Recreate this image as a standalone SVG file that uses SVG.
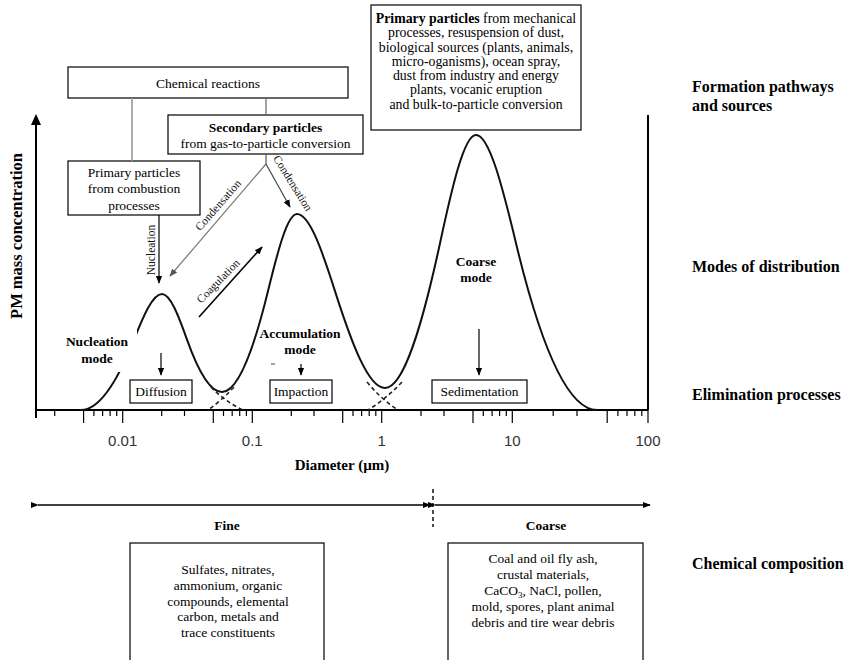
<svg xmlns="http://www.w3.org/2000/svg" width="848" height="660" viewBox="0 0 848 660">
<defs>
<style>
.box{fill:#fff;stroke:#000;stroke-width:1.2}
.t{font-family:"Liberation Serif","Times New Roman",serif;font-size:13.5px;text-anchor:middle;fill:#000}
.tp{font-size:13.8px}
.s{font-family:"Liberation Serif","Times New Roman",serif;font-size:11.5px;text-anchor:middle;fill:#111}
.b{font-weight:bold}
.lab{font-family:"Liberation Serif","Times New Roman",serif;font-size:16px;font-weight:bold;fill:#000}
.ml{font-family:"Liberation Serif","Times New Roman",serif;font-size:13.5px;font-weight:bold;text-anchor:middle;fill:#000}
.big{font-size:15px}
.yl{font-size:16.5px}
.tk{font-family:"Liberation Sans",Arial,sans-serif;font-size:15px;text-anchor:middle;fill:#333}
.ax{stroke:#000;stroke-width:2;fill:none}
.tick{stroke:#000;stroke-width:1.2}
.ar{stroke:#000;stroke-width:1.2;fill:none}
.dash{stroke:#222;stroke-width:1.6;stroke-dasharray:4,3;fill:none}
</style>
<marker id="ah" viewBox="0 0 10 10" refX="9" refY="5" markerWidth="8" markerHeight="8" markerUnits="userSpaceOnUse" orient="auto"><path d="M0,1 L10,5 L0,9 Z" fill="#000"/></marker>
<marker id="ahg" viewBox="0 0 10 10" refX="9" refY="5" markerWidth="8" markerHeight="8" markerUnits="userSpaceOnUse" orient="auto"><path d="M0,1 L10,5 L0,9 Z" fill="#555"/></marker>
</defs>
<rect width="848" height="660" fill="#fff"/>

<g id="axes">
<line class="ax" x1="36" y1="418" x2="36" y2="123"/>
<path d="M31,125 L36,114 L41,125 Z" fill="#000"/>
<line class="ax" x1="35" y1="410" x2="648" y2="410"/>
<line class="ax" x1="648" y1="410" x2="648" y2="115"/>
<g class="tick">
<line x1="54.7" y1="410" x2="54.7" y2="416"/>
<line x1="83.6" y1="410" x2="83.6" y2="423"/>
<line x1="93.9" y1="410" x2="93.9" y2="416"/>
<line x1="102.6" y1="410" x2="102.6" y2="416"/>
<line x1="110.1" y1="410" x2="110.1" y2="416"/>
<line x1="116.7" y1="410" x2="116.7" y2="416"/>
<line x1="122.7" y1="410" x2="122.7" y2="423"/>
<line x1="161.7" y1="410" x2="161.7" y2="416"/>
<line x1="184.5" y1="410" x2="184.5" y2="416"/>
<line x1="213.3" y1="410" x2="213.3" y2="423"/>
<line x1="223.5" y1="410" x2="223.5" y2="416"/>
<line x1="232.2" y1="410" x2="232.2" y2="416"/>
<line x1="239.7" y1="410" x2="239.7" y2="416"/>
<line x1="246.4" y1="410" x2="246.4" y2="416"/>
<line x1="252.3" y1="410" x2="252.3" y2="423"/>
<line x1="291.3" y1="410" x2="291.3" y2="416"/>
<line x1="314" y1="410" x2="314" y2="416"/>
<line x1="342.7" y1="410" x2="342.7" y2="423"/>
<line x1="353" y1="410" x2="353" y2="416"/>
<line x1="361.6" y1="410" x2="361.6" y2="416"/>
<line x1="369.2" y1="410" x2="369.2" y2="416"/>
<line x1="375.8" y1="410" x2="375.8" y2="416"/>
<line x1="381.7" y1="410" x2="381.7" y2="423"/>
<line x1="421" y1="410" x2="421" y2="416"/>
<line x1="444" y1="410" x2="444" y2="416"/>
<line x1="473" y1="410" x2="473" y2="423"/>
<line x1="483.3" y1="410" x2="483.3" y2="416"/>
<line x1="492.1" y1="410" x2="492.1" y2="416"/>
<line x1="499.6" y1="410" x2="499.6" y2="416"/>
<line x1="506.3" y1="410" x2="506.3" y2="416"/>
<line x1="512.3" y1="410" x2="512.3" y2="423"/>
<line x1="553.2" y1="410" x2="553.2" y2="416"/>
<line x1="577" y1="410" x2="577" y2="416"/>
<line x1="607.2" y1="410" x2="607.2" y2="423"/>
<line x1="617.9" y1="410" x2="617.9" y2="416"/>
<line x1="627" y1="410" x2="627" y2="416"/>
<line x1="634.8" y1="410" x2="634.8" y2="416"/>
<line x1="641.8" y1="410" x2="641.8" y2="416"/>
<line x1="648" y1="410" x2="648" y2="423"/>
</g>
<text class="tk" x="122.7" y="446">0.01</text>
<text class="tk" x="252.3" y="446">0.1</text>
<text class="tk" x="381.7" y="446">1</text>
<text class="tk" x="512.3" y="446">10</text>
<text class="tk" x="648" y="446">100</text>
<text class="ml big" x="342" y="470">Diameter (µm)</text>
<text class="ml yl" transform="translate(22,236) rotate(-90)">PM mass concentration</text>
</g>

<g id="curve">
<path d="M81,410 C98.67,410 116.33,383.95 134,339.6 C143.33,316.2 152.67,294 162,294 C170.33,294 178.67,316.2 187,339.6 C198.67,372.4 210.33,392 222,392 C237.33,392 252.67,353.97 268,291.1 C277.67,251.5 287.33,214 297,214 C309.67,214 322.33,251.5 335,291.1 C351.67,343.3 368.33,388 385,388 C403.33,388 421.67,328.1 440,243.2 C452,187.6 464,135 476,135 C489.33,135 502.67,187.6 516,243.2 C543,355.8 570,410 597,410" fill="none" stroke="#111" stroke-width="2"/>
<path class="dash" d="M211,387 Q224,401 243,410"/>
<path class="dash" d="M234,387 Q221,401 208,410"/>
<path class="dash" d="M367,382 Q381,399 398,410"/>
<path class="dash" d="M402,382 Q386,399 368,410"/>
<line x1="271" y1="364" x2="275" y2="364" stroke="#444" stroke-width="1"/>
</g>

<g id="mode-nucleation">
<rect x="63" y="330" width="74" height="42" fill="#fff"/>
<text class="ml" x="97" y="346">Nucleation</text>
<text class="ml" x="97" y="363">mode</text>
</g>
<g id="mode-accumulation">
<text class="ml" x="300" y="338">Accumulation</text>
<text class="ml" x="300" y="354">mode</text>
</g>
<g id="mode-coarse">
<text class="ml" x="476" y="266">Coarse</text>
<text class="ml" x="476" y="282">mode</text>
</g>

<g id="box-chemical">
<rect class="box" x="68" y="67" width="280" height="31"/>
<text class="t" x="208" y="88">Chemical reactions</text>
</g>
<g id="box-secondary">
<rect class="box" x="168" y="115" width="195" height="39"/>
<text class="t b" x="265.5" y="132">Secondary particles</text>
<text class="t" x="265.5" y="148">from gas-to-particle conversion</text>
</g>
<g id="box-primary-combustion">
<rect class="box" x="68" y="161" width="132" height="54"/>
<text class="t" x="134" y="177">Primary particles</text>
<text class="t" x="134" y="193">from combustion</text>
<text class="t" x="134" y="210">processes</text>
</g>
<g id="box-primary-mechanical">
<rect class="box" x="371" y="5" width="210" height="125"/>
<text class="t tp" x="476" y="23"><tspan font-weight="bold">Primary particles</tspan> from mechanical</text>
<text class="t tp" x="476" y="37">processes, resuspension of dust,</text>
<text class="t tp" x="476" y="52">biological sources (plants, animals,</text>
<text class="t tp" x="476" y="66">micro-oganisms), ocean spray,</text>
<text class="t tp" x="476" y="80">dust from industry and energy</text>
<text class="t tp" x="476" y="94">plants, vocanic eruption</text>
<text class="t tp" x="476" y="109">and bulk-to-particle conversion</text>
</g>

<g id="box-diffusion">
<rect class="box" x="130" y="380" width="62" height="23"/>
<text class="t" x="161" y="396">Diffusion</text>
</g>
<g id="box-impaction">
<rect class="box" x="270" y="380" width="62" height="23"/>
<text class="t" x="301" y="396">Impaction</text>
</g>
<g id="box-sedimentation">
<rect class="box" x="432" y="380" width="95" height="23"/>
<text class="t" x="479.5" y="396">Sedimentation</text>
</g>

<g id="connectors">
<line x1="132" y1="98" x2="132" y2="161" stroke="#999" stroke-width="1.6"/>
<line x1="266" y1="98" x2="266" y2="115" stroke="#666" stroke-width="1.2"/>
<line x1="266" y1="154" x2="266" y2="164" stroke="#555" stroke-width="1.2"/>
<line x1="266" y1="164" x2="170" y2="276" stroke="#777" stroke-width="1.2" marker-end="url(#ahg)"/>
<line x1="266" y1="164" x2="290" y2="207" stroke="#444" stroke-width="1.2" marker-end="url(#ah)"/>
<line class="ar" x1="159" y1="215" x2="159" y2="283" marker-end="url(#ah)"/>
<line x1="199" y1="317" x2="262" y2="247" stroke="#000" stroke-width="1.6" marker-end="url(#ah)"/>
<line class="ar" x1="161" y1="353" x2="161" y2="375" marker-end="url(#ah)"/>
<line class="ar" x1="301" y1="364" x2="301" y2="375" marker-end="url(#ah)"/>
<line class="ar" x1="479" y1="329" x2="479" y2="375" marker-end="url(#ah)"/>
<text class="s" transform="translate(151,250) rotate(-90)" dy="4">Nucleation</text>
<text class="s" transform="translate(218,205) rotate(-49)" dy="4">Condensation</text>
<text class="s" transform="translate(293,183) rotate(58)" dy="4">Condensation</text>
<text class="s" transform="translate(218,281) rotate(-46)" dy="4">Coagulation</text>
</g>

<g id="size-ranges">
<line x1="38" y1="505" x2="430" y2="505" stroke="#000" stroke-width="1.6" marker-start="url(#ah)" marker-end="url(#ah)"/>
<line x1="435" y1="505" x2="650" y2="505" stroke="#000" stroke-width="1.6" marker-start="url(#ah)" marker-end="url(#ah)"/>
<line x1="433" y1="489" x2="433" y2="527" stroke="#000" stroke-width="1.4" stroke-dasharray="4,3"/>
<text class="ml" x="227" y="530">Fine</text>
<text class="ml" x="546" y="530">Coarse</text>
</g>

<g id="box-fine">
<rect class="box" x="130" y="543" width="194" height="130"/>
<text class="t" x="228" y="574">Sulfates, nitrates,</text>
<text class="t" x="228" y="590">ammonium, organic</text>
<text class="t" x="228" y="606">compounds, elemental</text>
<text class="t" x="228" y="621">carbon, metals and</text>
<text class="t" x="228" y="637">trace constituents</text>
</g>
<g id="box-coarse">
<rect class="box" x="448" y="543" width="195" height="130"/>
<text class="t" x="543" y="563">Coal and oil fly ash,</text>
<text class="t" x="543" y="579">crustal materials,</text>
<text class="t" x="543" y="595">CaCO<tspan font-size="9" dy="2.5">3</tspan><tspan dy="-2.5">, NaCl, pollen,</tspan></text>
<text class="t" x="543" y="611">mold, spores, plant animal</text>
<text class="t" x="543" y="627">debris and tire wear debris</text>
</g>

<g id="row-labels">
<text class="lab" x="692" y="92">Formation pathways</text>
<text class="lab" x="692" y="111">and sources</text>
<text class="lab" x="692" y="272">Modes of distribution</text>
<text class="lab" x="692" y="400">Elimination processes</text>
<text class="lab" x="692" y="569">Chemical composition</text>
</g>
</svg>
